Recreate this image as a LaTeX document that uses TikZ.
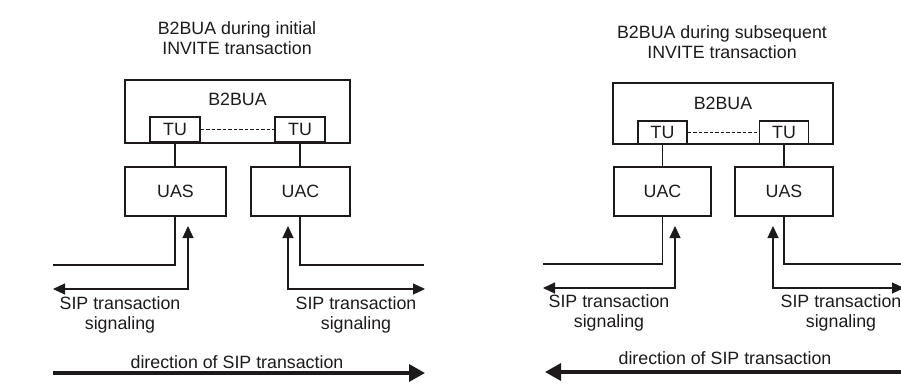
\documentclass[tikz,border=0pt]{standalone}
\usepackage{fontspec}
\setmainfont{Liberation Sans}
\usetikzlibrary{arrows.meta}
\definecolor{ink}{HTML}{1E1A1B}
\tikzset{
  every node/.style={text=ink, font=\fontsize{17.8}{20.5}\selectfont, inner sep=0pt},
  box/.style={draw=ink, line width=1.2pt, rectangle},
  thin/.style={draw=ink, line width=1.2pt},
  sig/.style={thin, {Triangle[length=12pt,width=11pt]}-{Triangle[length=12pt,width=11pt]}},
  thick/.style={draw=ink, line width=3.4pt, -{Triangle[length=16pt,width=17pt]}},
  tubox/.style={box, fill=white},
  ttl/.style={align=center}
}
\begin{document}
\begin{tikzpicture}[x=1pt,y=-1pt]
\useasboundingbox[fill=white] (0,0) rectangle (901,389);
% ---------------- left panel ----------------
\node[ttl] (ttlL) at (237,38) {B2BUA during initial\\INVITE transaction};
\node[box, minimum width=225pt, minimum height=63pt] (bL) at (237.5,111.5) {};
\node (bLlab) at (237.5,99) {B2BUA};
\node[tubox, minimum width=50pt, minimum height=25pt] (tuL1) at (175,129.5) {TU};
\node[tubox, minimum width=50pt, minimum height=25pt] (tuL2) at (300,129.5) {TU};
\draw[thin, dash pattern=on 3.5pt off 2pt] (tuL1.east) -- (tuL2.west);
\node[box, minimum width=101pt, minimum height=49pt] (uasL) at (175.5,191.5) {UAS};
\node[box, minimum width=99pt, minimum height=49pt] (uacL) at (300.5,191.5) {UAC};
\draw[thin] (tuL1.south) -- (uasL.north -| tuL1.south);
\draw[thin] (tuL2.south) -- (uacL.north -| tuL2.south);
\coordinate (lL1) at (53,265);
\coordinate (rL1) at (424,265);
\draw[thin] (uasL.south -| tuL1.south) |- (lL1);
\draw[thin] (uacL.south -| tuL2.south) |- (rL1);
\coordinate (upL1) at (188,226);
\coordinate (endL1) at (53,289);
\coordinate (upL2) at (288,226);
\coordinate (endL2) at (425,289);
\draw[sig] (upL1) |- (endL1);
\draw[sig] (upL2) |- (endL2);
\node[ttl] (sigL1) at (120,315) {SIP transaction\\signaling};
\node[ttl] (sigL2) at (356,315) {SIP transaction\\signaling};
\node (dirL) at (237,362) {direction of SIP transaction};
\coordinate (thL1) at (53,373);
\coordinate (thL2) at (425,373);
\draw[thick] (thL1) -- (thL2);
% ---------------- right panel ----------------
\node[ttl] (ttlR) at (722,42) {B2BUA during subsequent\\INVITE transaction};
\node[box, minimum width=220pt, minimum height=61pt] (bR) at (723,113.5) {};
\node (bRlab) at (723,103) {B2BUA};
\node[tubox, minimum width=49pt, minimum height=23pt] (tuR1) at (662.5,132.5) {TU};
\node[tubox, minimum width=49pt, minimum height=23pt] (tuR2) at (784,132.5) {TU};
\draw[thin, dash pattern=on 3.5pt off 2pt] (tuR1.east) -- (tuR2.west);
\node[box, minimum width=97pt, minimum height=49pt] (uacR) at (662.5,191.5) {UAC};
\node[box, minimum width=98pt, minimum height=49pt] (uasR) at (784,191.5) {UAS};
\draw[thin] (tuR1.south) -- (uacR.north -| tuR1.south);
\draw[thin] (tuR2.south) -- (uasR.north -| tuR2.south);
\coordinate (lR1) at (543,264);
\coordinate (rR1) at (905,264);
\draw[thin] (uacR.south -| tuR1.south) |- (lR1);
\draw[thin] (uasR.south -| tuR2.south) |- (rR1);
\coordinate (upR1) at (675,226);
\coordinate (endR1) at (543,288);
\coordinate (upR2) at (773,226);
\coordinate (endR2) at (904,288);
\draw[sig] (upR1) |- (endR1);
\draw[sig] (upR2) |- (endR2);
\node[ttl] (sigR1) at (609,313) {SIP transaction\\signaling};
\node[ttl] (sigR2) at (841,313) {SIP transaction\\signaling};
\node (dirR) at (725,358) {direction of SIP transaction};
\coordinate (thR1) at (910,372);
\coordinate (thR2) at (545,372);
\draw[thick] (thR1) -- (thR2);
\end{tikzpicture}
\end{document}
